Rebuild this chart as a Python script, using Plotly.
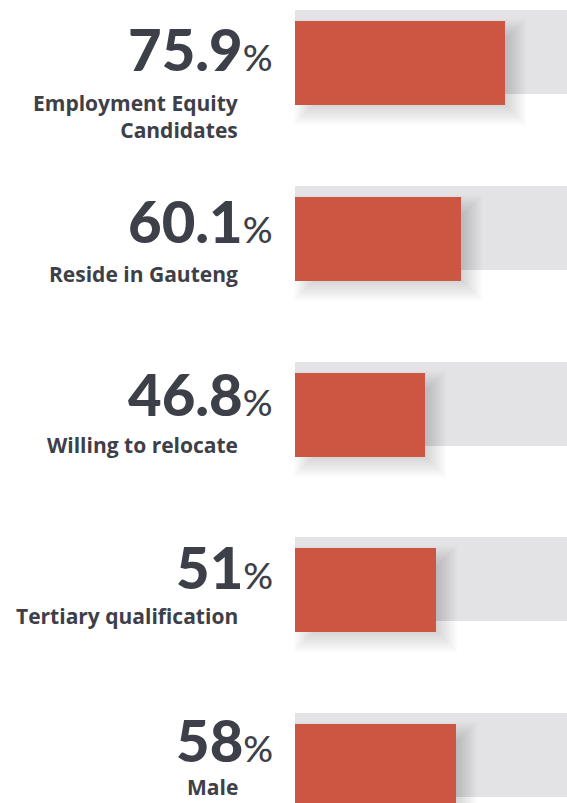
import plotly.graph_objects as go

# ---- data ----
categories = ["Employment Equity<br>Candidates", "Reside in Gauteng", "Willing to relocate",
              "Tertiary qualification", "Male"]
values = [75.9, 60.1, 46.8, 51, 58]
full_scale = [100, 100, 100, 100, 100]

# ---- layout constants (pixels) ----
W, H = 567, 803
BAR_LEFT = 295          # pixel where 0% sits
PX_PER_100 = 277        # pixels for 100%
PX = 100 / PX_PER_100   # data units per pixel
BAR_H = 84
GRAY_TOP0 = 10
STEP = 175.75
RED_DY = 11
NUM_C0, NUM_STEP = 48, 172.9
LAB_C0, LAB_STEP = 100.5, 171.1

TEXT = "#3d4048"
RED = "#cc5641"
GRAY = "#e3e3e5"
NUM_FONT = "Lato"
LAB_FONT = "Open Sans"

n = len(values)
gray_c = [GRAY_TOP0 + BAR_H / 2 + i * STEP for i in range(n)]
red_c = [c + RED_DY for c in gray_c]

fig = go.Figure()

# background (100%) bars
fig.add_trace(go.Bar(orientation="h", y=gray_c, x=full_scale, base=0, width=BAR_H,
                     marker=dict(color=GRAY, line=dict(width=0)), hoverinfo="skip"))

# soft drop shadow: layered translucent bars
SDX, SDY, BLUR, LAYERS = 10, 9, 11, 12
for k in range(LAYERS):
    s = -BLUR + 2 * BLUR * k / (LAYERS - 1)
    fig.add_trace(go.Bar(orientation="h",
                         y=[c + SDY for c in red_c],
                         x=[v + 2 * s * PX for v in values],
                         base=(SDX - s) * PX,
                         width=BAR_H + 2 * s,
                         marker=dict(color="rgba(0,0,0,0.0145)", line=dict(width=0)),
                         hoverinfo="skip"))

# value bars
fig.add_trace(go.Bar(orientation="h", y=red_c, x=values, base=0, width=BAR_H,
                     marker=dict(color=RED, line=dict(width=0)), hoverinfo="skip"))

annotations = []
for i, (cat, v) in enumerate(zip(categories, values)):
    annotations.append(dict(
        xref="x", yref="y", x=(275 - BAR_LEFT) * PX, y=NUM_C0 + i * NUM_STEP,
        xanchor="right", yanchor="middle", showarrow=False,
        text=f"{v:g}<span style='font-size:37px;font-weight:500'>%</span>",
        font=dict(family=NUM_FONT, size=58, color=TEXT, weight=900),
    ))
    annotations.append(dict(
        xref="x", yref="y", x=(240 - BAR_LEFT) * PX, y=LAB_C0 + i * LAB_STEP - 14,
        xanchor="right", yanchor="top", align="right", showarrow=False,
        text=cat,
        font=dict(family=LAB_FONT, size=21, color=TEXT, weight=700),
    ))

fig.update_layout(
    width=W, height=H, margin=dict(l=0, r=0, t=0, b=0),
    barmode="overlay", bargap=0, showlegend=False,
    paper_bgcolor="white", plot_bgcolor="white",
    xaxis=dict(range=[-BAR_LEFT * PX, (W - BAR_LEFT) * PX], visible=False, fixedrange=True),
    yaxis=dict(range=[H, 0], visible=False, fixedrange=True),
    annotations=annotations,
)

fig.write_html("out.html", config={"displayModeBar": False},
               post_script="document.body.style.margin='0';")
